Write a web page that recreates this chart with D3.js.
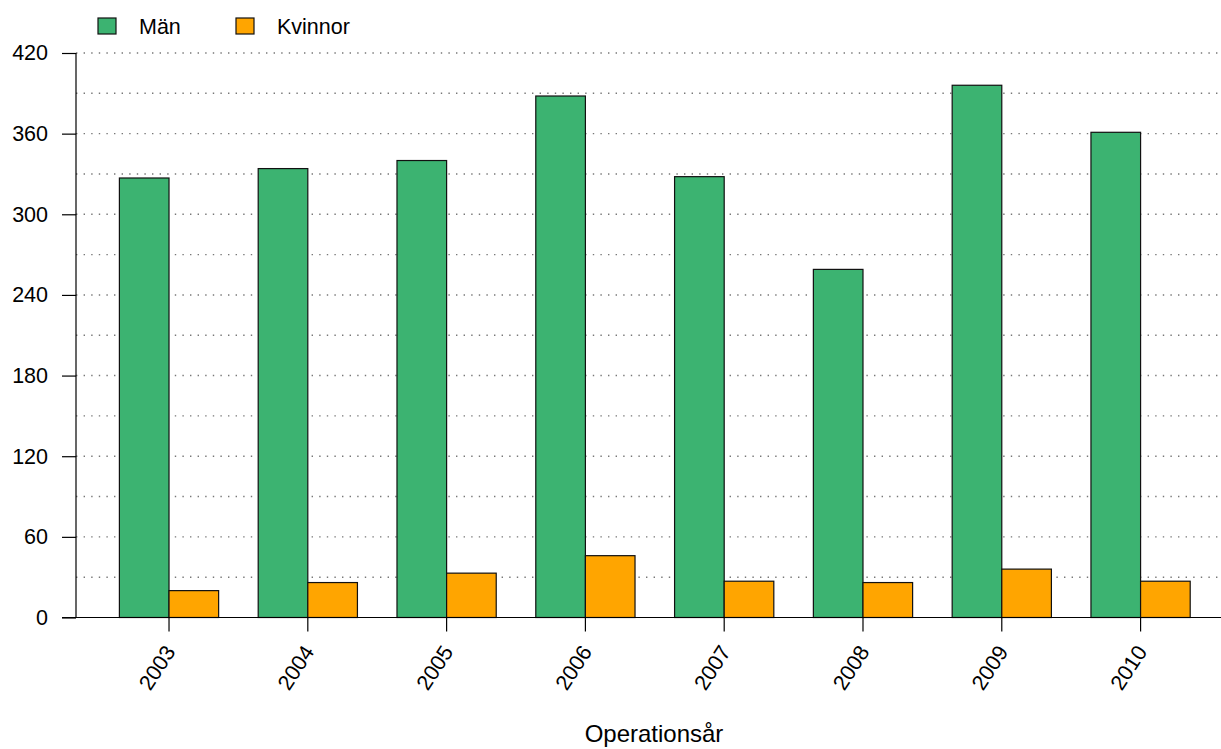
<!DOCTYPE html>
<html><head><meta charset="utf-8">
<script src="https://cdn.jsdelivr.net/npm/d3@7"></script>
<style>
body{margin:0;background:#fff;}
text{font-family:"Liberation Sans",Arial,sans-serif;fill:#000;}
</style></head>
<body>
<svg id="chart" width="1221" height="749"></svg>
<script>
const years = ["2003","2004","2005","2006","2007","2008","2009","2010"];
const seriesNames = ["Män","Kvinnor"];
const man = [327, 334, 340, 388, 328, 259, 396, 361];
const kvinnor = [20, 26, 33, 46, 27, 26, 36, 27];
const yTicks = [0, 60, 120, 180, 240, 300, 360, 420];
const gridVals = [30, 60, 90, 120, 150, 180, 210, 240, 270, 300, 330, 360, 390, 420];
const colors = ["#3CB371", "#FFA500"];
const xTitle = "Operationsår";

const svg = d3.select("#chart");
const y = d3.scaleLinear().domain([0, 420]).range([617.5, 53]);
const x = d3.scaleBand().domain(years).range([119.4, 1190.2]).paddingInner(0.285).paddingOuter(0);
const xs = d3.scaleBand().domain(seriesNames).range([0, x.bandwidth()]);

// grid
svg.append("g").selectAll("line").data(gridVals).join("line")
  .attr("x1", 76).attr("x2", 1221)
  .attr("y1", d => y(d)).attr("y2", d => y(d))
  .attr("stroke", "#777").attr("stroke-width", 1.4)
  .attr("stroke-dasharray", "1.4,6.2");

// bars
const data = years.map((yr, i) => ({yr, vals: [man[i], kvinnor[i]]}));
const g = svg.append("g").selectAll("g").data(data).join("g")
  .attr("transform", d => `translate(${x(d.yr)},0)`);
g.selectAll("rect").data(d => d.vals.map((v, j) => ({v, s: seriesNames[j], j}))).join("rect")
  .attr("x", d => xs(d.s)).attr("width", xs.bandwidth())
  .attr("y", d => y(d.v)).attr("height", d => y(0) - y(d.v))
  .attr("fill", d => colors[d.j]).attr("stroke", "#111").attr("stroke-width", 1.2);

// baseline
svg.append("line").attr("x1", 62).attr("x2", 1221).attr("y1", y(0)).attr("y2", y(0))
  .attr("stroke", "#000").attr("stroke-width", 1.2);

// y axis
const ya = svg.append("g").attr("transform", "translate(76,0)")
  .call(d3.axisLeft(y).tickValues(yTicks).tickSize(14).tickPadding(14).tickFormat(d3.format("d")));
ya.select(".domain").attr("stroke", "#000").attr("stroke-width", 1.2).attr("d", `M0,${y(420)}V${y(0)}`);
ya.selectAll(".tick line").attr("stroke", "#000").attr("stroke-width", 1.2);
ya.selectAll("text").attr("font-size", 21.5).attr("font-family", "Liberation Sans, Arial, sans-serif").attr("fill", "#000");

// x ticks
const xa = svg.append("g").attr("transform", `translate(0,${y(0)})`)
  .call(d3.axisBottom(x).tickSize(14).tickSizeOuter(0));
xa.select(".domain").remove();
xa.selectAll(".tick line").attr("stroke", "#000").attr("stroke-width", 1.2);
xa.selectAll("text")
  .attr("font-size", 21.5).attr("font-family", "Liberation Sans, Arial, sans-serif").attr("fill", "#000")
  .attr("text-anchor", "end").attr("dy", "0.35em")
  .attr("transform", "translate(1,30) rotate(-57)").attr("x", 0).attr("y", 0);

// x title
svg.append("text").attr("x", 654).attr("y", 742).attr("text-anchor", "middle")
  .attr("font-size", 24).text(xTitle);

// legend
const legX = [98, 236];
const leg = svg.append("g").selectAll("g").data(seriesNames).join("g")
  .attr("transform", (d, i) => `translate(${legX[i]},18)`);
leg.append("rect").attr("width", 18).attr("height", 16)
  .attr("fill", (d, i) => colors[i]).attr("stroke", "#111").attr("stroke-width", 1.2);
leg.append("text").attr("x", 41).attr("y", 15.5).attr("font-size", 21.5).text(d => d);
</script>
</body></html>
